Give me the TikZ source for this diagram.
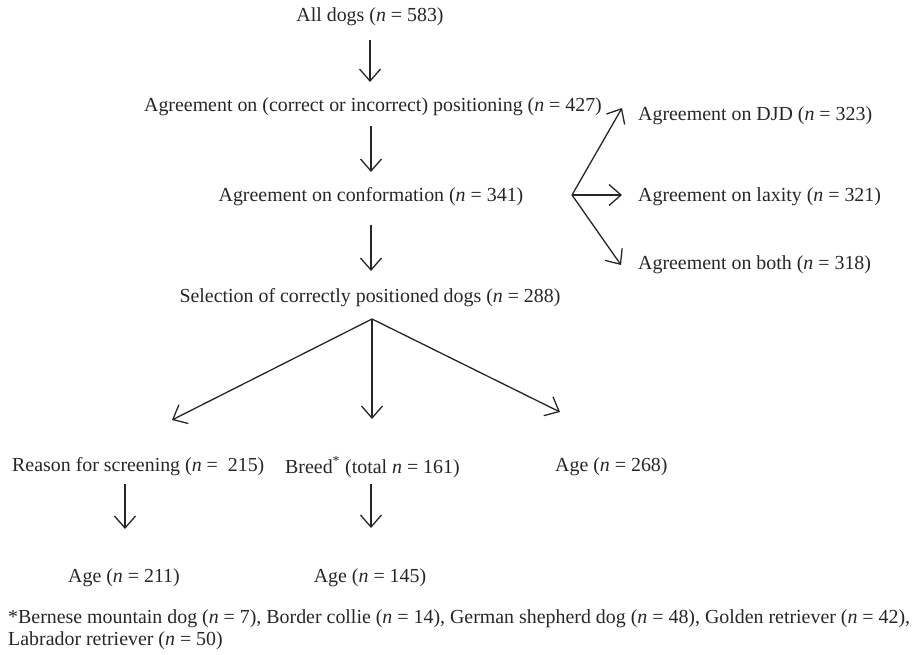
\documentclass[tikz,border=0pt]{standalone}
\usepackage{fontspec}
\setmainfont{Liberation Serif}
\usetikzlibrary{arrows.meta}
\begin{document}
\begin{tikzpicture}[x=1pt,y=-1pt,
  lbl/.style={inner sep=0pt, font=\fontsize{19.9}{22}\selectfont, text=black!85},
  note/.style={inner sep=0pt, anchor=west, font=\fontsize{19.9}{22}\selectfont, text=black!85},
  flow/.style={draw=black!85, line width=1.3pt, -{Straight Barb[length=12pt,width=21pt,line width=1.3pt]}}]
\useasboundingbox (0,0) rectangle (916,655);

% main column
\node[lbl] (all)  at (370,17)  {All dogs (\textit{n} = 583)};
\node[lbl] (pos)  at (373,107) {Agreement on (correct or incorrect) positioning (\textit{n} = 427)};
\node[lbl] (conf) at (371,197) {Agreement on conformation (\textit{n} = 341)};
\node[lbl] (sel)  at (370,298) {Selection of correctly positioned dogs (\textit{n} = 288)};

% side branch
\node[lbl, anchor=west] (djd)  at (638,116) {Agreement on DJD (\textit{n} = 323)};
\node[lbl, anchor=west] (lax)  at (638,197) {Agreement on laxity (\textit{n} = 321)};
\node[lbl, anchor=west] (both) at (638,265) {Agreement on both (\textit{n} = 318)};

% lower level
\node[lbl, anchor=west] (reason) at (12,467) {Reason for screening (\textit{n} =\ \ 215)};
\node[lbl, anchor=west] (breed)  at (285,467) {Breed\textsuperscript{*} (total \textit{n} = 161)};
\node[lbl, anchor=west] (age1)   at (555,467) {Age (\textit{n} = 268)};
\node[lbl] (age2)   at (124,578) {Age (\textit{n} = 211)};
\node[lbl] (age3)   at (370,578) {Age (\textit{n} = 145)};

% footnote
\node[note] (fn1) at (8,619) {*Bernese mountain dog (\textit{n} = 7), Border collie (\textit{n} = 14), German shepherd dog (\textit{n} = 48), Golden retriever (\textit{n} = 42),};
\node[note] (fn2) at (8,641) {Labrador retriever (\textit{n} = 50)};

% arrow anchor points
\coordinate (a1s) at (370,40);  \coordinate (a1e) at (370,82);
\coordinate (a2s) at (371,126); \coordinate (a2e) at (371,172);
\coordinate (a3s) at (371,225); \coordinate (a3e) at (371,271);
\coordinate (fork) at (372,319);
\coordinate (fl) at (172,420);
\coordinate (fm) at (372,419);
\coordinate (fr) at (560,412);
\coordinate (side) at (572,195);
\coordinate (su) at (622,108);
\coordinate (sm) at (622,195);
\coordinate (sd) at (621,265);
\coordinate (b1s) at (125,484); \coordinate (b1e) at (125,529);
\coordinate (b2s) at (371,484); \coordinate (b2e) at (371,528);

\draw[flow] (a1s) -- (a1e);
\draw[flow] (a2s) -- (a2e);
\draw[flow] (a3s) -- (a3e);
\draw[flow] (fork) -- (fl);
\draw[flow] (fork) -- (fm);
\draw[flow] (fork) -- (fr);
\draw[flow] (side) -- (su);
\draw[flow] (side) -- (sm);
\draw[flow] (side) -- (sd);
\draw[flow] (b1s) -- (b1e);
\draw[flow] (b2s) -- (b2e);
\end{tikzpicture}
\end{document}
